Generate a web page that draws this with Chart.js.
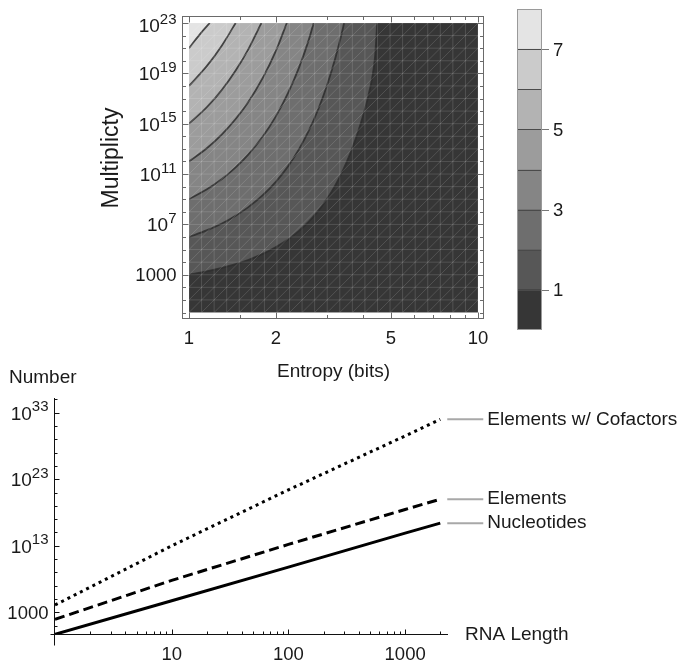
<!DOCTYPE html>
<html>
<head>
<meta charset="utf-8">
<script src="https://cdn.jsdelivr.net/npm/chart.js@4.4.1/dist/chart.umd.min.js"></script>
<style>
  html, body { margin: 0; padding: 0; background: #fff; }
  #wrap { position: relative; width: 684px; height: 662px; overflow: hidden; }
  canvas { position: absolute; }
  #contourChart { left: 0; top: 0; }
  #barLegend { left: 500px; top: 0; }
  #rnaChart { left: 0; top: 345px; }
</style>
</head>
<body>
<div id="wrap">
  <canvas id="contourChart" width="500" height="385"></canvas>
  <canvas id="barLegend" width="100" height="345"></canvas>
  <canvas id="rnaChart" width="684" height="317"></canvas>
</div>
<script>
// Contour curves: [entropy (bits), log10 multiplicity], one array per level
const contour1 = [[1, 3.0], [1.15, 3.26], [1.3, 3.54], [1.45, 3.84], [1.6, 4.17], [1.8, 4.66], [2, 5.2], [2.2, 5.8], [2.4, 6.48], [2.6, 7.23], [2.8, 8.07], [3, 9.01], [3.2, 10.06], [3.4, 11.23], [3.6, 12.54], [3.8, 14.0], [4, 15.62], [4.15, 16.97], [4.3, 18.6], [4.4, 20.25], [4.48, 23]];
const contour2 = [[1, 6.0], [1.15, 6.52], [1.3, 7.07], [1.45, 7.69], [1.6, 8.35], [1.8, 9.32], [2, 10.4], [2.2, 11.61], [2.4, 12.96], [2.6, 14.47], [2.8, 16.15], [3, 18.02], [3.2, 20.12], [3.4, 22.46], [3.44, 23]];
const contour3 = [[1, 9.0], [1.15, 9.77], [1.3, 10.61], [1.45, 11.53], [1.6, 12.52], [1.8, 13.98], [2, 15.6], [2.2, 17.42], [2.4, 19.44], [2.6, 21.7], [2.7, 23]];
const contour4 = [[1, 12], [1.15, 13.03], [1.3, 14.15], [1.45, 15.37], [1.6, 16.69], [1.8, 18.64], [2, 20.8], [2.18, 23]];
const contour5 = [[1, 15], [1.15, 16.29], [1.3, 17.69], [1.45, 19.22], [1.6, 20.87], [1.78, 23]];
const contour6 = [[1, 18], [1.15, 19.55], [1.3, 21.22], [1.45, 23]];
const contour7 = [[1, 21], [1.09, 22.1], [1.18, 23]];
const contourLevels = [contour1, contour2, contour3, contour4, contour5, contour6, contour7];

// Gray bands 0-1 ... 7-8
const bandColors = ['#363636', '#575757', '#6e6e6e', '#858585', '#9c9c9c', '#b3b3b3', '#cbcbcb', '#e4e4e4'];
const bandSizes = [1, 1, 1, 1, 1, 1, 1, 1];
const colorbarTicks = [1, 3, 5, 7];

const multiplicityTicks = [3, 7, 11, 15, 19, 23];
const entropyTicks = [1, 2, 5, 10];
const entropyMinor = [1.5, 3, 4, 6, 7, 8, 9];

// RNA length chart (values as log10 of number)
const rnaLengths = [1, 10, 100, 1000, 2000];
const nucleotidesExp = [-0.3, 4.75, 9.8, 14.9, 16.4];
const elementsExp = [1.95, 7.8, 13.2, 18.45, 20.0];
const cofactorsExp = [4.1, 13.0, 21.4, 29.5, 32.0];
const seriesNames = ['Elements w/ Cofactors', 'Elements', 'Nucleotides'];
const numberTicks = [3, 13, 23, 33];
const lengthTicks = [10, 100, 1000];

const FONT = '"Liberation Sans", Arial, sans-serif';
const TEXT = '#1a1a1a';

// Draw "10" with a raised exponent, right aligned
function drawPower(ctx, exp, right, y) {
  ctx.textAlign = 'right';
  ctx.textBaseline = 'alphabetic';
  ctx.fillStyle = TEXT;
  ctx.font = '15px ' + FONT;
  const ew = ctx.measureText(String(exp)).width;
  ctx.fillText(String(exp), right, y - 1.5);
  ctx.font = '19px ' + FONT;
  ctx.fillText('10', right - ew, y + 7);
}

function drawPlain(ctx, text, x, y, align) {
  ctx.textAlign = align;
  ctx.textBaseline = 'alphabetic';
  ctx.fillStyle = TEXT;
  ctx.font = '18.5px ' + FONT;
  ctx.fillText(text, x, y + 6.5);
}

const contourFrame = {
  id: 'contourFrame',
  beforeDatasetsDraw(chart) {
    const { ctx, chartArea: a } = chart;
    ctx.save();
    ctx.fillStyle = bandColors[0];
    ctx.fillRect(a.left, a.top, a.right - a.left, a.bottom - a.top);
    ctx.restore();
  },
  afterDatasetsDraw(chart) {
    // faint plotting mesh seen in the original render
    const { ctx, chartArea: a } = chart;
    const w = a.right - a.left, h = a.bottom - a.top;
    const n = 23, dx = w / n, dy = h / n;
    ctx.save();
    ctx.beginPath();
    ctx.rect(a.left, a.top, w, h);
    ctx.clip();
    ctx.strokeStyle = 'rgba(255,255,255,0.16)';
    ctx.lineWidth = 0.9;
    ctx.beginPath();
    for (let i = 0; i <= n; i++) {
      ctx.moveTo(a.left + i * dx, a.top);
      ctx.lineTo(a.left + i * dx, a.bottom);
      ctx.moveTo(a.left, a.top + i * dy);
      ctx.lineTo(a.right, a.top + i * dy);
    }
    for (let k = -n; k <= n; k++) {
      ctx.moveTo(a.left + k * dx, a.bottom);
      ctx.lineTo(a.left + (k + n) * dx, a.top);
    }
    ctx.stroke();
    ctx.restore();
  },
  afterDraw(chart) {
    const { ctx, chartArea: a, scales: { x, y } } = chart;
    const fx0 = Math.round(a.left - 7) + 0.5;
    const fx1 = Math.round(a.right + 5) + 0.5;
    const fy0 = Math.round(a.top - 7) + 0.5;
    const fy1 = Math.round(a.bottom + 5) + 0.5;
    ctx.save();
    ctx.strokeStyle = '#6a6a6a';
    ctx.lineWidth = 1;
    ctx.strokeRect(fx0, fy0, fx1 - fx0, fy1 - fy0);

    ctx.beginPath();
    for (let e = 0; e <= 23; e++) {
      const py = Math.round(y.getPixelForValue(Math.pow(10, e))) + 0.5;
      const len = multiplicityTicks.includes(e) ? 6 : 3.5;
      ctx.moveTo(fx0, py); ctx.lineTo(fx0 + len, py);
      ctx.moveTo(fx1, py); ctx.lineTo(fx1 - len, py);
    }
    entropyTicks.concat(entropyMinor).forEach(v => {
      const px = Math.round(x.getPixelForValue(v)) + 0.5;
      const len = entropyTicks.includes(v) ? 6 : 3.5;
      ctx.moveTo(px, fy1); ctx.lineTo(px, fy1 - len);
      ctx.moveTo(px, fy0); ctx.lineTo(px, fy0 + len);
    });
    ctx.stroke();

    multiplicityTicks.forEach(e => {
      const py = y.getPixelForValue(Math.pow(10, e));
      if (e === 3) drawPlain(ctx, '1000', fx0 - 6, py, 'right');
      else drawPower(ctx, e, fx0 - 6, py + (e === 23 ? 2 : 0));
    });
    entropyTicks.forEach(v => {
      drawPlain(ctx, String(v), x.getPixelForValue(v), fy1 + 19, 'center');
    });

    ctx.fillStyle = TEXT;
    ctx.font = '19px ' + FONT;
    ctx.textAlign = 'center';
    ctx.textBaseline = 'middle';
    ctx.fillText('Entropy (bits)', (a.left + a.right) / 2, 372);
    ctx.translate(112, 158);
    ctx.rotate(-Math.PI / 2);
    ctx.font = '23px ' + FONT;
    ctx.fillText('Multiplicty', 0, 0);
    ctx.restore();
  }
};

new Chart(document.getElementById('contourChart'), {
  type: 'line',
  data: {
    datasets: contourLevels.map((pts, i) => ({
      label: 'Level ' + (i + 1),
      data: pts.map(([s, e]) => ({ x: s, y: Math.pow(10, e) })),
      borderColor: 'rgba(45,45,45,0.85)',
      borderWidth: 1.8,
      backgroundColor: bandColors[i + 1],
      fill: 'end',
      pointRadius: 0,
      cubicInterpolationMode: 'monotone',
      order: 10 - i
    }))
  },
  options: {
    responsive: false,
    animation: false,
    devicePixelRatio: 1,
    events: [],
    layout: { padding: { left: 189, right: 22, top: 23, bottom: 72.5 } },
    plugins: { legend: { display: false }, tooltip: { enabled: false } },
    scales: {
      x: { type: 'logarithmic', min: 1, max: 10, display: false },
      y: { type: 'logarithmic', min: 1, max: 1e23, display: false }
    }
  },
  plugins: [contourFrame]
});

const colorbarAxis = {
  id: 'colorbarAxis',
  afterDraw(chart) {
    const { ctx, chartArea: a, scales: { y } } = chart;
    ctx.save();
    ctx.strokeStyle = '#4a4a4a';
    ctx.lineWidth = 1;
    ctx.beginPath();
    for (let v = 1; v < bandSizes.length; v++) {
      const py = Math.round(y.getPixelForValue(v)) + 0.5;
      ctx.moveTo(a.left, py); ctx.lineTo(a.right, py);
    }
    ctx.stroke();
    ctx.strokeStyle = '#9a9a9a';
    ctx.strokeRect(Math.round(a.left) + 0.5, Math.round(a.top) + 0.5, Math.round(a.right - a.left) - 1, Math.round(a.bottom - a.top) - 1);
    ctx.strokeStyle = '#777';
    ctx.beginPath();
    colorbarTicks.forEach(v => {
      const py = Math.round(y.getPixelForValue(v)) + 0.5;
      ctx.moveTo(a.right, py); ctx.lineTo(a.right + 7, py);
    });
    ctx.stroke();
    colorbarTicks.forEach(v => drawPlain(ctx, String(v), a.right + 11, y.getPixelForValue(v), 'left'));
    ctx.restore();
  }
};

new Chart(document.getElementById('barLegend'), {
  type: 'bar',
  data: {
    labels: [''],
    datasets: bandColors.map((c, i) => ({
      label: i + '-' + (i + 1),
      data: [bandSizes[i]],
      backgroundColor: c,
      borderWidth: 0,
      barPercentage: 1,
      categoryPercentage: 1
    }))
  },
  options: {
    responsive: false,
    animation: false,
    devicePixelRatio: 1,
    events: [],
    layout: { padding: { left: 17, right: 58, top: 9, bottom: 15 } },
    plugins: { legend: { display: false }, tooltip: { enabled: false } },
    scales: {
      x: { stacked: true, display: false },
      y: { stacked: true, min: 0, max: 8, display: false }
    }
  },
  plugins: [colorbarAxis]
});

const rnaAxes = {
  id: 'rnaAxes',
  afterDraw(chart) {
    const { ctx, chartArea: a, scales: { x, y } } = chart;
    const ax = Math.round(a.left) - 0.5;
    const ay = Math.round(a.bottom) + 0.5;
    ctx.save();
    ctx.strokeStyle = '#111';
    ctx.lineWidth = 1;
    ctx.beginPath();
    ctx.moveTo(ax, a.top); ctx.lineTo(ax, ay + 11);
    ctx.moveTo(ax - 4, ay); ctx.lineTo(a.right, ay);
    for (let e = 1; e <= 35; e += 2) {
      const py = Math.round(y.getPixelForValue(Math.pow(10, e))) + 0.5;
      const len = numberTicks.includes(e) ? 5 : 3;
      ctx.moveTo(ax, py); ctx.lineTo(ax + len, py);
    }
    [1, 10, 100, 1000].forEach(d => {
      for (let m = 1; m <= 9; m++) {
        const v = d * m;
        if (v <= 1 || v > x.max) continue;
        const px = Math.round(x.getPixelForValue(v)) + 0.5;
        const len = m === 1 ? 5 : 3;
        ctx.moveTo(px, ay); ctx.lineTo(px, ay - len);
      }
    });
    ctx.stroke();

    numberTicks.forEach(e => {
      const py = y.getPixelForValue(Math.pow(10, e));
      if (e === 3) drawPlain(ctx, '1000', ax - 6, py, 'right');
      else drawPower(ctx, e, ax - 6, py);
    });
    lengthTicks.forEach(v => drawPlain(ctx, String(v), x.getPixelForValue(v), ay + 19, 'center'));

    // labels at the line ends
    const ends = [cofactorsExp, elementsExp, nucleotidesExp];
    const lastX = x.getPixelForValue(rnaLengths[rnaLengths.length - 1]);
    ends.forEach((vals, i) => {
      const py = y.getPixelForValue(Math.pow(10, vals[vals.length - 1]));
      ctx.strokeStyle = '#a8a8a8';
      ctx.lineWidth = 2;
      ctx.beginPath();
      ctx.moveTo(lastX + 7, py); ctx.lineTo(lastX + 43, py);
      ctx.stroke();
      ctx.fillStyle = TEXT;
      ctx.font = '19px ' + FONT;
      ctx.textAlign = 'left';
      ctx.textBaseline = 'middle';
      ctx.fillText(seriesNames[i], lastX + 47, py);
    });

    ctx.fillStyle = TEXT;
    ctx.font = '19px ' + FONT;
    ctx.textAlign = 'left';
    ctx.textBaseline = 'middle';
    ctx.fillText('Number', 9, 33);
    ctx.fillText('RNA Length', 465, ay);
    ctx.restore();
  }
};

function lineSet(label, exps, dash) {
  return {
    label,
    data: rnaLengths.map((L, i) => ({ x: L, y: Math.pow(10, exps[i]) })),
    borderColor: '#000',
    borderWidth: 3,
    borderDash: dash,
    borderCapStyle: 'butt',
    pointRadius: 0,
    fill: false,
    tension: 0
  };
}

new Chart(document.getElementById('rnaChart'), {
  type: 'line',
  data: {
    datasets: [
      lineSet(seriesNames[0], cofactorsExp, [3, 4]),
      lineSet(seriesNames[1], elementsExp, [10, 5]),
      lineSet(seriesNames[2], nucleotidesExp, [])
    ]
  },
  options: {
    responsive: false,
    animation: false,
    devicePixelRatio: 1,
    events: [],
    layout: { padding: { left: 55, right: 236, top: 53, bottom: 27.7 } },
    plugins: { legend: { display: false }, tooltip: { enabled: false } },
    scales: {
      x: { type: 'logarithmic', min: 1, max: 2330, display: false },
      y: { type: 'logarithmic', min: Math.pow(10, -0.3), max: Math.pow(10, 35.2), display: false }
    }
  },
  plugins: [rnaAxes]
});
</script>
</body>
</html>
